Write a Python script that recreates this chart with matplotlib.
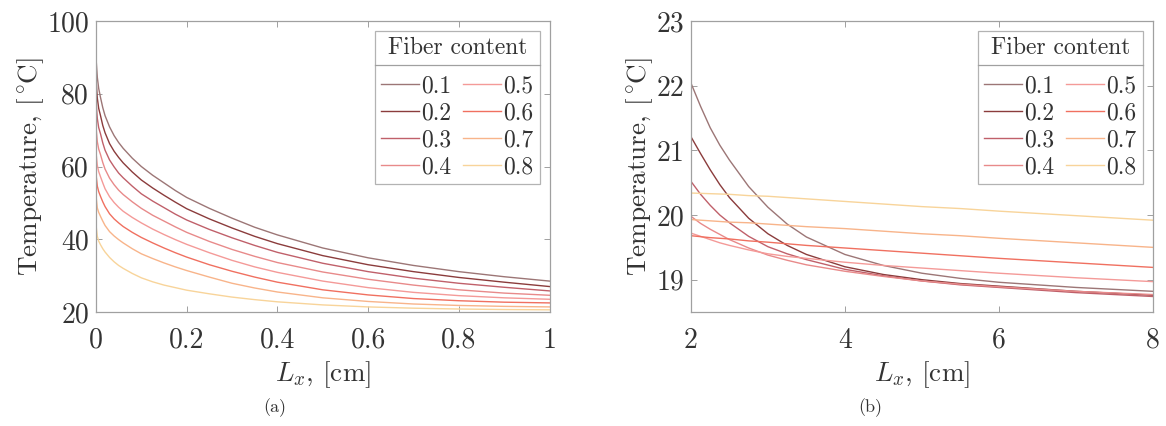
import numpy as np
import matplotlib
matplotlib.use("Agg")
import matplotlib.pyplot as plt
from matplotlib.lines import Line2D

plt.rcParams['font.family'] = 'serif'
plt.rcParams['font.serif'] = ['cmr10']
plt.rcParams['mathtext.fontset'] = 'cm'
plt.rcParams['axes.formatter.use_mathtext'] = True
plt.rcParams['axes.unicode_minus'] = False

# Datos
fibras = ['0.1', '0.2', '0.3', '0.4', '0.5', '0.6', '0.7', '0.8']
colores = ['#9c7676', '#8b3c3c', '#c0606a', '#e88a8a',
           '#f49a98', '#f07060', '#f8b48a', '#f8d49a']

# (a) longitudes cortas
x_a = [0, 0.003, 0.006, 0.01, 0.015, 0.02, 0.03, 0.04, 0.05, 0.06, 0.08, 0.1, 0.125,
       0.15, 0.175, 0.2, 0.25, 0.3, 0.35, 0.4, 0.5, 0.6, 0.7, 0.8, 0.9, 1.0]
t_a_01 = [90, 84.5, 81.5, 79, 76.2, 74, 70.9, 68.5, 66.6, 65, 62.3, 60, 57.6,
          55.5, 53.4, 51.5, 48.5, 45.8, 43.3, 41.2, 37.6, 34.9, 32.8, 31.1, 29.7, 28.5]
t_a_02 = [84, 78.8, 76.0, 74, 71.3, 69.3, 66.3, 64.2, 62.5, 61, 58.5, 56.3, 54.1,
          52.1, 50.2, 48.4, 45.6, 43.1, 40.8, 38.8, 35.5, 33.0, 31.1, 29.5, 28.2, 27.0]
t_a_03 = [78, 73.2, 70.7, 69, 66.5, 64.5, 61.8, 59.9, 58.2, 56.9, 54.6, 52.5, 50.5,
          48.7, 46.9, 45.3, 42.7, 40.4, 38.3, 36.4, 33.4, 31.1, 29.3, 27.9, 26.8, 25.8]
t_a_04 = [71, 66.8, 64.8, 63.3, 61.1, 59.3, 56.8, 55.0, 53.5, 52.3, 50.3, 48.5, 46.6,
          45.0, 43.4, 41.9, 39.4, 37.2, 35.3, 33.6, 31.0, 29.0, 27.4, 26.1, 25.2, 24.6]
t_a_05 = [64, 60.3, 58.6, 57.2, 55.5, 53.9, 51.7, 50.1, 48.8, 47.7, 46.0, 44.5, 42.8,
          41.3, 39.9, 38.6, 36.3, 34.2, 32.4, 30.9, 28.5, 26.7, 25.4, 24.5, 23.9, 23.5]
t_a_06 = [58, 54.6, 53.1, 51.8, 50.3, 49.0, 47.0, 45.6, 44.5, 43.5, 41.9, 40.5, 39.0,
          37.6, 36.3, 35.1, 33.0, 31.2, 29.6, 28.2, 26.1, 24.7, 23.7, 23.1, 22.7, 22.5]
t_a_07 = [52, 48.6, 47.4, 46.3, 45.0, 43.8, 42.1, 40.9, 39.9, 39.0, 37.4, 36.0, 34.7,
          33.5, 32.4, 31.4, 29.6, 27.9, 26.6, 25.5, 23.9, 22.9, 22.2, 21.8, 21.55, 21.4]
t_a_08 = [44, 40.8, 39.5, 38.5, 37.4, 36.5, 35.0, 33.8, 32.8, 32.0, 30.6, 29.4, 28.3,
          27.4, 26.7, 26.0, 25.0, 24.1, 23.4, 22.8, 21.95, 21.4, 21.05, 20.82, 20.68, 20.6]

# (b) longitudes largas
x_b = [2, 2.125, 2.25, 2.375, 2.5, 2.75, 3, 3.25, 3.5, 4, 4.5, 5, 5.5, 6, 7, 8]
t_b_01 = [22.04, 21.68, 21.35, 21.08, 20.85, 20.44, 20.12, 19.86, 19.66, 19.39, 19.22, 19.1, 19.02, 18.96, 18.88, 18.82]
t_b_02 = [21.21, 20.95, 20.7, 20.47, 20.27, 19.95, 19.71, 19.53, 19.39, 19.2, 19.08, 19.0, 18.94, 18.9, 18.82, 18.76]
t_b_03 = [20.52, 20.32, 20.15, 20.0, 19.88, 19.67, 19.51, 19.4, 19.31, 19.16, 19.06, 18.98, 18.92, 18.88, 18.8, 18.74]
t_b_04 = [19.98, 19.87, 19.78, 19.7, 19.62, 19.49, 19.38, 19.3, 19.23, 19.13, 19.05, 18.98, 18.93, 18.89, 18.82, 18.77]
t_b_05 = [19.72, 19.67, 19.62, 19.57, 19.53, 19.46, 19.4, 19.36, 19.33, 19.27, 19.22, 19.18, 19.14, 19.1, 19.03, 18.97]
t_b_06 = [19.68, 19.665, 19.65, 19.64, 19.63, 19.6, 19.58, 19.555, 19.53, 19.49, 19.45, 19.41, 19.37, 19.33, 19.26, 19.19]
t_b_07 = [19.93, 19.92, 19.91, 19.9, 19.89, 19.88, 19.86, 19.84, 19.82, 19.79, 19.75, 19.71, 19.68, 19.64, 19.57, 19.50]
t_b_08 = [20.34, 20.335, 20.33, 20.325, 20.32, 20.3, 20.29, 20.27, 20.25, 20.21, 20.17, 20.13, 20.1, 20.06, 19.99, 19.92]

series_a = [t_a_01, t_a_02, t_a_03, t_a_04, t_a_05, t_a_06, t_a_07, t_a_08]
series_b = [t_b_01, t_b_02, t_b_03, t_b_04, t_b_05, t_b_06, t_b_07, t_b_08]

fig = plt.figure(figsize=(11.66, 4.26), dpi=100)
ax1 = fig.add_axes([0.0823, 0.2676, 0.389, 0.683])
ax2 = fig.add_axes([0.5926, 0.2676, 0.396, 0.683])

GRIS = '#333333'


def dibujar(ax, x, series, xlim, ylim, xticks, yticks):
    for s, c, f in zip(series, colores, fibras):
        ax.plot(x, s, color=c, lw=1.0, label=f)
    ax.set_xlim(xlim)
    ax.set_ylim(ylim)
    ax.set_xticks(xticks)
    ax.set_yticks(yticks)
    ax.set_xticklabels([('%g' % v) for v in xticks])
    ax.set_yticklabels([('%g' % v) for v in yticks])
    ax.tick_params(direction='in', length=4, width=0.6, top=True, right=True,
                   labelsize=20, colors='#909090', labelcolor=GRIS, pad=5)
    ax.tick_params(axis='x', pad=11)
    for sp in ax.spines.values():
        sp.set_color('#a0a0a0')
        sp.set_linewidth(0.9)
    ax.set_xlabel(r'$L_x$, [cm]', fontsize=19.5, color=GRIS, labelpad=4)
    ax.set_ylabel(r'Temperature, $[{}^\circ\!\mathrm{C}]$', fontsize=19.5, color=GRIS, labelpad=1)
    leg = ax.legend(title='Fiber content', ncol=2, loc='upper right',
                    bbox_to_anchor=(0.978, 0.967), fontsize=17, title_fontsize=17,
                    frameon=True, fancybox=False, edgecolor='#a0a0a0',
                    handlelength=1.6, handletextpad=0.1, columnspacing=0.5,
                    labelspacing=0.2, borderpad=0.25, borderaxespad=0)
    leg.get_frame().set_linewidth(0.9)
    leg._legend_box.sep = 12
    for t in leg.get_texts():
        t.set_color(GRIS)
    leg.get_title().set_color(GRIS)
    return leg


leg1 = dibujar(ax1, x_a, series_a, (0, 1), (20, 100),
               [0, 0.2, 0.4, 0.6, 0.8, 1], [20, 40, 60, 80, 100])
leg2 = dibujar(ax2, x_b, series_b, (2, 8), (18.5, 23),
               [2, 4, 6, 8], [19, 20, 21, 22, 23])

# Linea separadora bajo el titulo de la leyenda (estilo MATLAB)
fig.canvas.draw()
inv = fig.transFigure.inverted()
for leg in (leg1, leg2):
    bb = leg.get_window_extent()
    tb = leg.get_title().get_window_extent()
    y = tb.y0 - 6
    (x0, yf), (x1, _) = inv.transform([(bb.x0, y), (bb.x1, y)])
    fig.add_artist(Line2D([x0, x1], [yf, yf], color='#a0a0a0', lw=0.9))

fig.text(275 / 1166, 1 - 408 / 426, '(a)', ha='center', va='center', fontsize=13, color=GRIS)
fig.text(870 / 1166, 1 - 408 / 426, '(b)', ha='center', va='center', fontsize=13, color=GRIS)

fig.savefig('out.png', dpi=100)
